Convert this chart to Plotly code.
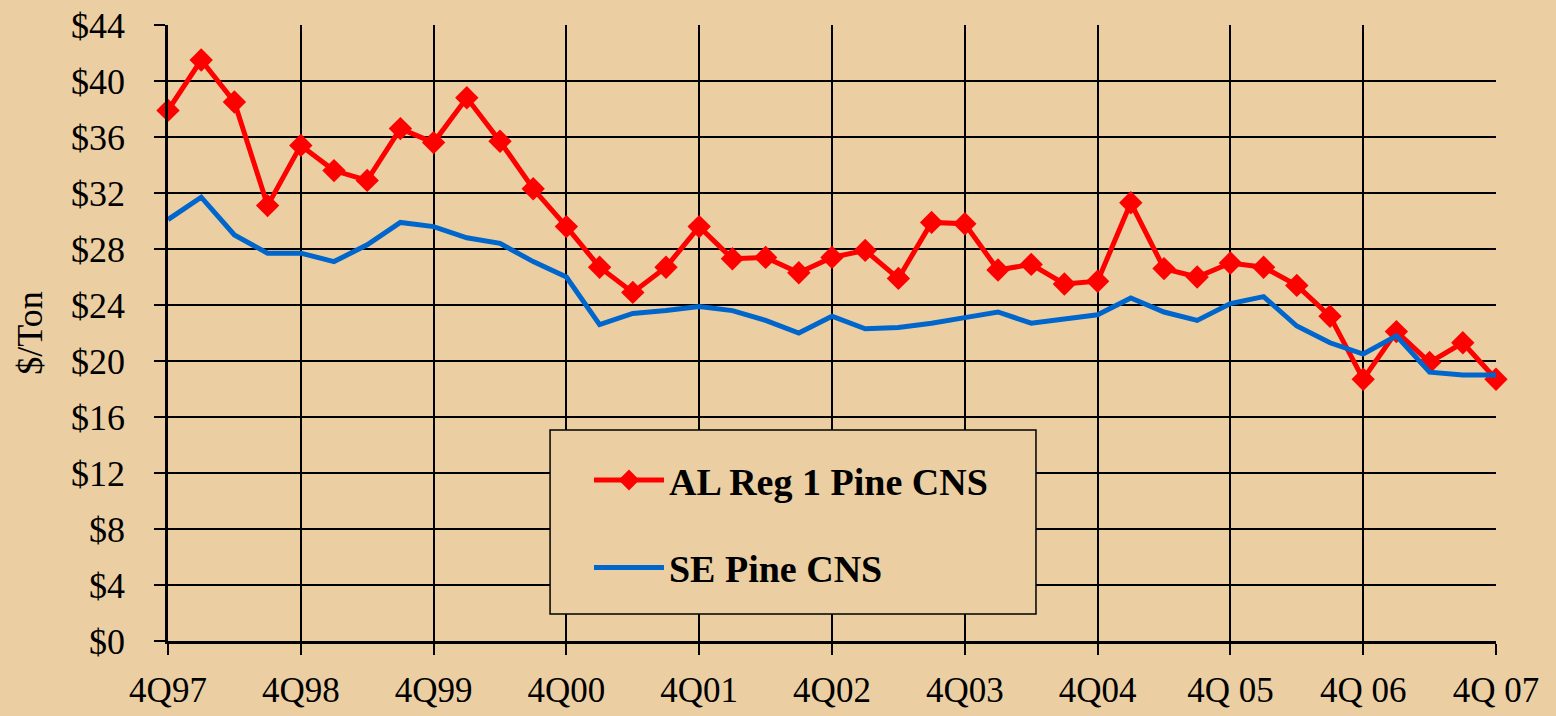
import plotly.graph_objects as go

quarters = ["4Q97","1Q98","2Q98","3Q98","4Q98","1Q99","2Q99","3Q99","4Q99",
            "1Q00","2Q00","3Q00","4Q00","1Q01","2Q01","3Q01","4Q01",
            "1Q02","2Q02","3Q02","4Q02","1Q03","2Q03","3Q03","4Q03",
            "1Q04","2Q04","3Q04","4Q04","1Q05","2Q05","3Q05","4Q05",
            "1Q06","2Q06","3Q06","4Q06","1Q07","2Q07","3Q07","4Q07"]

al_reg1 = [37.9, 41.5, 38.5, 31.1, 35.4, 33.6, 32.9, 36.6, 35.6,
           38.8, 35.7, 32.3, 29.6, 26.7, 24.9, 26.7, 29.6,
           27.3, 27.4, 26.3, 27.4, 27.9, 25.9, 29.9, 29.8,
           26.5, 26.9, 25.5, 25.7, 31.3, 26.6, 26.0, 27.0,
           26.7, 25.4, 23.2, 18.7, 22.1, 19.9, 21.3, 18.7]

se_pine = [30.1, 31.7, 29.0, 27.7, 27.7, 27.1, 28.3, 29.9, 29.6,
           28.8, 28.4, 27.1, 26.0, 22.6, 23.4, 23.6, 23.9,
           23.6, 22.9, 22.0, 23.2, 22.3, 22.4, 22.7, 23.1,
           23.5, 22.7, 23.0, 23.3, 24.5, 23.5, 22.9, 24.1,
           24.6, 22.5, 21.3, 20.5, 21.8, 19.2, 19.0, 19.0]

tick_labels = ["4Q97", "4Q98", "4Q99", "4Q00", "4Q01", "4Q02", "4Q03",
               "4Q04", "4Q 05", "4Q 06", "4Q 07"]
y_ticks = list(range(0, 45, 4))

x_idx = list(range(len(quarters)))
tick_pos = [i for i in x_idx if quarters[i].startswith("4Q")]

BG = "#EBCFA2"
SERIF = "Liberation Serif, Times New Roman, serif"

fig = go.Figure()
fig.add_trace(go.Scatter(
    x=x_idx, y=al_reg1, name="AL Reg 1 Pine CNS", mode="lines+markers",
    line=dict(color="#FF0000", width=5),
    marker=dict(symbol="diamond", size=18, color="#FF0000"),
    cliponaxis=False, legendgroup="a"))
fig.add_trace(go.Scatter(
    x=x_idx, y=se_pine, name="SE Pine CNS", mode="lines",
    line=dict(color="#0066CC", width=5),
    cliponaxis=False, legendgroup="b"))

# legend frame
fig.add_shape(type="rect", xref="paper", yref="paper",
              x0=0.2877, x1=0.6536, y0=0.0438, y1=0.3425,
              fillcolor=BG, line=dict(color="black", width=1.5), layer="above")

fig.update_layout(
    width=1556, height=716,
    margin=dict(l=168, r=60, t=25, b=75),
    paper_bgcolor=BG, plot_bgcolor=BG,
    font=dict(family=SERIF, size=36, color="black"),
    legend=dict(
        x=0.317, y=0.312, xanchor="left", yanchor="top",
        bgcolor="rgba(0,0,0,0)", borderwidth=0,
        font=dict(family=SERIF, size=38, color="black", weight="bold"),
        traceorder="grouped", tracegroupgap=35, itemwidth=70,
    ),
    xaxis=dict(
        range=[0, 40], tickmode="array", tickvals=tick_pos, ticktext=tick_labels,
        showgrid=True, gridcolor="black", gridwidth=1.5,
        showline=True, linecolor="black", linewidth=2.5, mirror=False,
        ticks="outside", ticklen=11, tickcolor="black", tickwidth=1.5,
        tickfont=dict(family=SERIF, size=35), zeroline=False,
        ticklabelstandoff=5, automargin=False,
    ),
    yaxis=dict(
        range=[0, 44], tickmode="array", tickvals=y_ticks,
        ticktext=[f"${v}" for v in y_ticks],
        showgrid=True, gridcolor="black", gridwidth=1.5,
        showline=True, linecolor="black", linewidth=2.5,
        ticks="outside", ticklen=11, tickcolor="black", tickwidth=1.5,
        tickfont=dict(family=SERIF, size=36), zeroline=False,
        ticklabelstandoff=22, automargin=False,
        title=dict(text="$/Ton", font=dict(family=SERIF, size=36), standoff=18),
    ),
)

fig.write_html("out.html",
               config={"displayModeBar": False},
               post_script="document.body.style.margin='0';"
                           "document.body.style.background='" + BG + "';")
